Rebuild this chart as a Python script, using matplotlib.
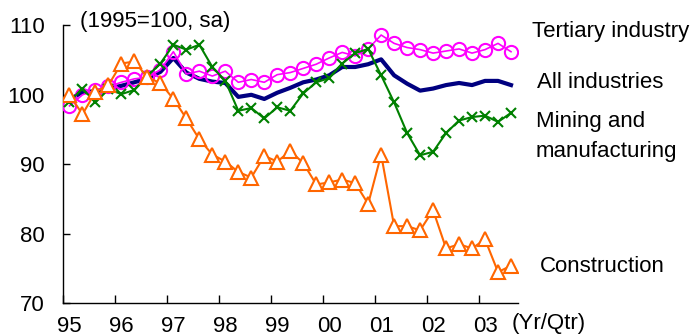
import numpy as np
import matplotlib
matplotlib.use("Agg")
import matplotlib.pyplot as plt

plt.rcParams['font.family'] = ['Liberation Sans', 'DejaVu Sans']

# quarterly data, 95Q1 .. 03Q3 (1995=100, sa)
year_labels = ['95', '96', '97', '98', '99', '00', '01', '02', '03']

tertiary = [98.4, 100.0, 100.7, 101.2, 101.8, 102.3, 102.5, 103.6, 106.2, 103.0,
            103.4, 102.7, 103.4, 101.8, 102.2, 101.8, 102.9, 103.2, 103.8, 104.4,
            105.3, 106.1, 105.6, 106.6, 108.6, 107.4, 106.8, 106.5, 106.0, 106.3,
            106.6, 106.0, 106.5, 107.4, 106.2]

all_ind = [99.3, 100.4, 100.5, 100.9, 101.3, 101.8, 102.4, 103.3, 105.3, 103.2,
           102.3, 101.9, 101.7, 99.7, 100.0, 99.4, 100.3, 101.0, 101.8, 102.2,
           102.8, 104.0, 104.0, 104.4, 105.1, 102.8, 101.6, 100.6, 100.9, 101.4,
           101.7, 101.4, 102.0, 102.0, 101.4]

mining = [99.0, 100.9, 98.9, 100.8, 100.1, 100.7, 102.7, 104.5, 107.2, 106.5,
          107.2, 104.0, 102.0, 97.7, 98.1, 96.6, 98.2, 97.7, 100.2, 101.8,
          102.4, 104.5, 106.0, 106.6, 102.8, 98.9, 94.5, 91.3, 91.8, 94.5,
          96.3, 96.8, 97.0, 96.1, 97.4]

construction = [100.0, 97.2, 100.4, 101.4, 104.5, 104.8, 102.5, 101.7, 99.4, 96.6,
                93.6, 91.4, 90.4, 88.9, 88.1, 91.2, 90.4, 91.9, 90.2, 87.1,
                87.4, 87.8, 87.3, 84.3, 91.4, 81.1, 81.1, 80.5, 83.4, 77.9,
                78.5, 77.9, 79.2, 74.5, 75.4]

x = np.arange(len(tertiary)) + 0.5  # mid-quarter positions

fig = plt.figure(figsize=(6.9, 3.36), dpi=100)
ax = fig.add_axes([0.0913, 0.0973, 0.6587, 0.8274])

ax.plot(x, all_ind, color='#000080', lw=3, zorder=2)
ax.plot(x, tertiary, color='#FF00FF', lw=1.2, marker='o', ms=9.5,
        mfc='none', mec='#FF00FF', mew=1.5, zorder=3)
ax.plot(x, mining, color='#008000', lw=1.5, marker='x', ms=7,
        mew=1.5, zorder=4)
ax.plot(x, construction, color='#FF6600', lw=1.5, marker='^', ms=10,
        mfc='white', mec='#FF6600', mew=1.5, zorder=5)

fs = 16

ax.set_xlim(0, 35)
ax.set_ylim(70, 110)
ax.set_yticks([70, 80, 90, 100, 110])

ax.set_xticks(np.arange(0, 36, 4))
ax.set_xticklabels([])
ax.set_xticks(np.arange(0, 36, 4) + 0.5, minor=True)
ax.set_xticklabels(year_labels, minor=True)
ax.tick_params(axis='x', which='minor', length=0, pad=9, labelsize=fs)
ax.tick_params(axis='x', which='major', direction='in', length=6, width=1)
ax.tick_params(axis='y', direction='in', length=5, width=1, pad=13, labelsize=fs)

for s in ['top', 'right']:
    ax.spines[s].set_visible(False)
for s in ['left', 'bottom']:
    ax.spines[s].set_linewidth(1)

fig.text(80 / 690, 1 - 21 / 336, '(1995=100, sa)', fontsize=fs, va='center')
fig.text(532 / 690, 1 - 32 / 336, 'Tertiary industry', fontsize=fs, va='center')
fig.text(537 / 690, 1 - 83 / 336, 'All industries', fontsize=fs, va='center')
fig.text(536 / 690, 1 - 121 / 336, 'Mining and', fontsize=fs, va='center')
fig.text(536 / 690, 1 - 152 / 336, 'manufacturing', fontsize=fs, va='center')
fig.text(540 / 690, 1 - 266 / 336, 'Construction', fontsize=fs, va='center')
fig.text(512 / 690, 1 - 324 / 336, '(Yr/Qtr)', fontsize=fs, va='center')

fig.savefig('out.png', dpi=100)
